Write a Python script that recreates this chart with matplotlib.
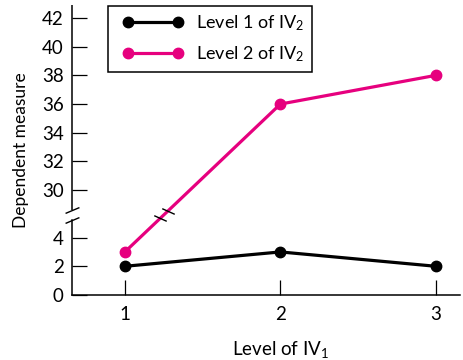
import numpy as np
import matplotlib
matplotlib.use("Agg")
import matplotlib.pyplot as plt
import matplotlib.transforms as mtransforms
from matplotlib.legend_handler import HandlerLine2D

# ---- data ----
levels_iv1 = [1, 2, 3]
level1_iv2 = [2, 3, 2]
level2_iv2 = [3, 36, 38]
yticks = [0, 2, 4, 30, 32, 34, 36, 38, 40, 42]
series_labels = ["Level 1 of IV$_\\mathregular{2}$", "Level 2 of IV$_\\mathregular{2}$"]
xlabel = "Level of IV$_\\mathregular{1}$"
ylabel = "Dependent measure"

plt.rcParams['font.family'] = ['Lato', 'DejaVu Sans']
plt.rcParams['mathtext.fontset'] = 'custom'
plt.rcParams['mathtext.rm'] = 'Lato'
plt.rcParams['mathtext.it'] = 'Lato'

# broken axis scale
L, U, fU = 5.45, 28.2, 5.5
OFF = U - fU

def forward(y):
    y = np.asarray(y, dtype=float)
    return np.where(y <= L, y, np.where(y >= U, y - OFF, L + (y - L) * (fU - L) / (U - L)))

def inverse(f):
    f = np.asarray(f, dtype=float)
    return np.where(f <= L, f, np.where(f >= fU, f + OFF, L + (f - L) * (U - L) / (fU - L)))

PINK = '#E6007E'
fig = plt.figure(figsize=(4.64, 3.6), dpi=100)
ax = fig.add_axes([72/464, 1 - 295/360, 388/464, 290/360])
ax.set_yscale('function', functions=(forward, inverse))
ax.set_xlim(0.66, 3.155)
ax.set_ylim(0, 42.9)

ax.plot(levels_iv1, level1_iv2, color='black', lw=2.3, marker='o', ms=7.5,
        label=series_labels[0], zorder=3, clip_on=False)
ax.plot(levels_iv1, level2_iv2, color=PINK, lw=2.3, marker='o', ms=7.5,
        label=series_labels[1], zorder=3, clip_on=False)

# spines
for s in ['top', 'right']:
    ax.spines[s].set_visible(False)
spine_lw = 1.1
ax.spines['left'].set_linewidth(spine_lw)
ax.spines['bottom'].set_linewidth(spine_lw)
low_end, up_start = 5.2, 28.6
ax.spines['left'].set_bounds(0, low_end)
ax.plot([0, 0], [up_start, 42.9], transform=ax.get_yaxis_transform(),
        color='black', lw=spine_lw, clip_on=False, solid_capstyle='butt')

# break marks on the axis
ax.plot([0, 0], [low_end, up_start], transform=ax.get_yaxis_transform(),
        ls='none', marker=[(-1, -0.42), (1, 0.42)], ms=10, mew=1.0,
        mec='black', mfc='none', clip_on=False, zorder=4)
# break marks on the pink line
brk_y = np.array([5.35, 28.57])
f0, f1 = forward(level2_iv2[0]), forward(level2_iv2[1])
brk_x = 1 + (forward(brk_y) - f0) / (f1 - f0)
ax.plot(brk_x, brk_y, ls='none', marker=[(-1, 0.45), (1, -0.45)], ms=9, mew=1.0,
        mec='black', mfc='none', zorder=4)

ax.set_xticks(levels_iv1)
ax.set_yticks(yticks)
ax.set_yticklabels([str(v) for v in yticks])
ax.minorticks_off()
ax.tick_params(axis='both', direction='in', length=11, width=0.9, labelsize=13.5)
ax.tick_params(axis='y', pad=6)
ax.tick_params(axis='x', pad=8)

ax.set_ylabel(ylabel, fontsize=12.5, labelpad=9)
ax.set_xlabel(xlabel, fontsize=13.5)
ax.xaxis.set_label_coords(2, -0.15, transform=mtransforms.blended_transform_factory(ax.transData, ax.transAxes))

leg = ax.legend(loc='upper left', bbox_to_anchor=(36/388, 1 - 1/290), borderaxespad=0,
                numpoints=2, handlelength=4.2, handletextpad=0.3, labelspacing=0.65,
                borderpad=0.4, fancybox=False, framealpha=1, edgecolor='black',
                fontsize=13, handler_map={matplotlib.lines.Line2D: HandlerLine2D(marker_pad=0.72)})
leg.get_frame().set_linewidth(1.1)

fig.savefig('out.png', dpi=100)
